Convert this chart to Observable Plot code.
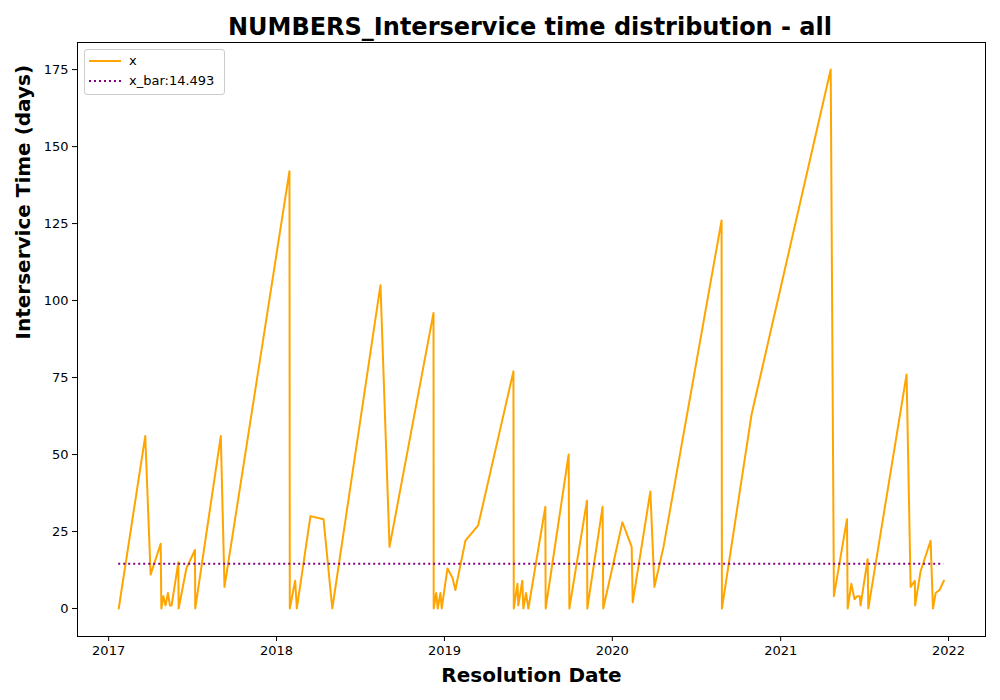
<!DOCTYPE html>
<html>
<head>
<meta charset="utf-8">
<script src="https://cdn.jsdelivr.net/npm/d3@7"></script>
<script src="https://cdn.jsdelivr.net/npm/@observablehq/plot@0.6"></script>
<style>
  body { margin: 0; background: #fff; font-family: "DejaVu Sans", sans-serif; }
  #wrap { position: relative; width: 1000px; }
  h1 { margin: 0; height: 42px; line-height: 54px; text-align: center; font-size: 24px; font-weight: bold; padding-left: 60px; }
  #legend { position: absolute; left: 84px; top: 49px; width: 139px; height: 44px; border: 1px solid #ccc; border-radius: 3px; background: #fff; font-size: 13px; }
  .row { position: absolute; left: 4px; display: flex; align-items: center; }
  .row span { margin-left: 8px; }
</style>
</head>
<body>
<div id="wrap">
  <h1>NUMBERS_Interservice time distribution - all</h1>
  <div id="chart"></div>
  <div id="legend">
    <div class="row" style="top:3px"><svg width="32" height="10"><line x1="0" y1="5" x2="32" y2="5" stroke="orange" stroke-width="2"/></svg><span>x</span></div>
    <div class="row" style="top:23px"><svg width="32" height="10"><line x1="0" y1="5" x2="32" y2="5" stroke="purple" stroke-width="2" stroke-dasharray="2,3"/></svg><span>x_bar:14.493</span></div>
  </div>
</div>
<script>
// fecha en años decimales y días entre servicios
const years = [2017.060,2017.218,2017.250,2017.310,2017.314,2017.326,2017.339,2017.353,2017.365,2017.375,
  2017.415,2017.417,2017.463,2017.514,2017.516,2017.668,2017.690,2018.077,2018.079,2018.111,
  2018.121,2018.202,2018.280,2018.332,2018.619,2018.673,2018.935,2018.936,2018.951,2018.960,
  2018.976,2018.984,2019.018,2019.048,2019.065,2019.125,2019.201,2019.411,2019.413,2019.435,
  2019.440,2019.464,2019.470,2019.486,2019.500,2019.601,2019.603,2019.740,2019.744,2019.849,
  2019.851,2019.942,2019.946,2020.060,2020.115,2020.121,2020.226,2020.250,2020.304,2020.649,
  2020.651,2020.827,2021.298,2021.317,2021.395,2021.399,2021.421,2021.440,2021.456,2021.471,
  2021.476,2021.518,2021.522,2021.750,2021.774,2021.799,2021.801,2021.833,2021.893,2021.907,
  2021.923,2021.946,2021.972]
const days = [0,56,11,21,0,4,1,5,1,1,
  15,0,13,19,0,56,7,142,0,9,
  0,30,29,0,105,20,96,0,5,0,
  5,0,13,10,6,22,27,77,0,8,
  1,9,0,5,0,33,0,50,0,35,
  0,33,0,28,20,2,38,7,20,126,
  0,63,175,4,29,0,8,3,4,4,
  1,16,0,76,7,9,1,12,22,0,
  5,6,9]
const xBar = 14.493

const toDate = y => {
  const yr = Math.floor(y)
  const a = Date.UTC(yr, 0, 1), b = Date.UTC(yr + 1, 0, 1)
  return new Date(a + (y - yr) * (b - a))
}
const data = years.map((y, i) => ({date: toDate(y), x: days[i]}))
const first = data[0].date, last = data[data.length - 1].date

let chart = Plot.plot({
  width: 1000,
  height: 658,
  marginTop: 0,
  marginLeft: 77,
  marginRight: 15,
  marginBottom: 64,
  style: {fontFamily: 'DejaVu Sans', fontSize: '13px', color: '#000'},
  x: {
    type: 'utc',
    domain: [toDate(2016.815), toDate(2022.22)],
    ticks: d3.utcYear.every(1),
    tickFormat: d3.utcFormat('%Y'),
    tickSize: 5,
    label: null,
  },
  y: {
    domain: [-9.1, 183.8],
    ticks: [0, 25, 50, 75, 100, 125, 150, 175],
    tickSize: 5,
    label: null,
  },
  marks: [
    Plot.frame({stroke: '#000'}),
    Plot.line(data, {x: 'date', y: 'x', stroke: 'orange', strokeWidth: 2}),
    Plot.ruleY([xBar], {x1: first, x2: last, stroke: 'purple', strokeWidth: 2, strokeDasharray: '2,3'}),
    Plot.text(['Resolution Date'], {frameAnchor: 'bottom', dy: 45, fontSize: 20, fontWeight: 'bold'}),
    Plot.text(['Interservice Time (days)'], {frameAnchor: 'left', dx: -54, rotate: -90, fontSize: 20, fontWeight: 'bold'}),
  ],
})
d3.select('#chart').append(() => chart)
</script>
</body>
</html>
